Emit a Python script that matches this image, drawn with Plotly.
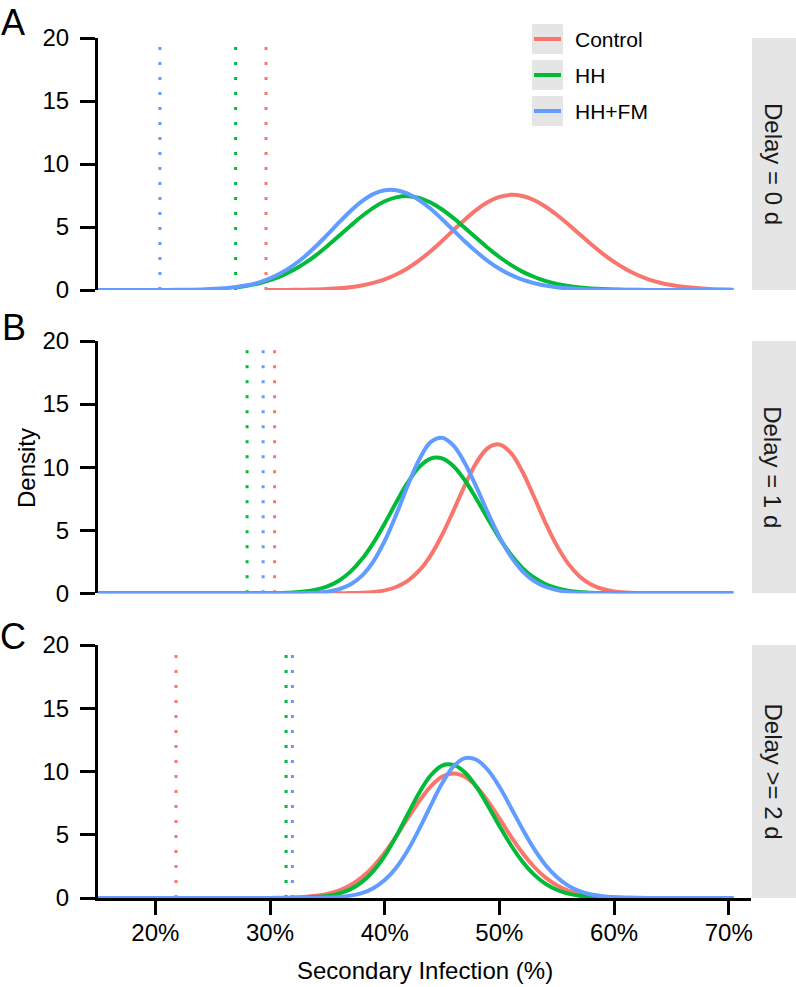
import plotly.graph_objects as go

# ---------------- data ----------------
GRID = [15, 18, 20, 22, 24, 26] + list(range(28, 67)) + [68, 70, 70.4]

# Panel A (Delay = 0 d)
A_CONTROL_X = [29.7] + list(range(30, 67)) + [68, 70, 70.4]
A_CONTROL_Y = [0.002, 0.003, 0.006, 0.011, 0.022, 0.042, 0.075, 0.13, 0.22,
               0.36, 0.56, 0.84, 1.23, 1.73, 2.35, 3.08, 3.89, 4.75, 5.60,
               6.36, 6.98, 7.39, 7.55, 7.46, 7.14, 6.63, 5.97, 5.22, 4.42,
               3.63, 2.89, 2.23, 1.67, 1.21, 0.85, 0.58, 0.39, 0.25, 0.093,
               0.031, 0.025]
A_HH_X = [27] + list(range(28, 67)) + [68, 70, 70.4]
A_HH_Y = [0.216, 0.34, 0.52, 0.78, 1.12, 1.56, 2.11, 2.75, 3.49, 4.28, 5.08,
          5.85, 6.52, 7.04, 7.35, 7.45, 7.31, 6.94, 6.39, 5.70, 4.92, 4.12,
          3.33, 2.62, 1.99, 1.46, 1.05, 0.72, 0.48, 0.31, 0.20, 0.12, 0.07,
          0.04, 0.022, 0.012, 0.006, 0.003, 0.001, 0, 0, 0, 0]
A_HHFM_Y = [0, 0, 0.002, 0.01, 0.038, 0.13, 0.37, 0.59, 0.92, 1.36, 1.93,
            2.64, 3.47, 4.39, 5.34, 6.25, 7.03, 7.61, 7.91, 7.92, 7.65, 7.14,
            6.45, 5.62, 4.73, 3.85, 3.03, 2.30, 1.69, 1.20, 0.82, 0.55, 0.35,
            0.22, 0.13, 0.075, 0.042, 0.022, 0.012, 0.006, 0.003, 0.001, 0,
            0, 0, 0, 0, 0]

# Panel B (Delay = 1 d)
B_CONTROL_Y = [0, 0, 0, 0, 0, 0, 0, 0, 0, 0, 0, 0, 0, 0, 0.005, 0.015, 0.04,
               0.10, 0.23, 0.50, 0.99, 1.79, 2.99, 4.62, 6.56, 8.58, 10.36,
               11.52, 11.80, 11.13, 9.65, 7.69, 5.63, 3.80, 2.35, 1.34, 0.70,
               0.34, 0.15, 0.061, 0.023, 0.008, 0.002, 0, 0, 0, 0, 0]
B_HH_Y = [0, 0, 0, 0, 0, 0, 0, 0.004, 0.011, 0.027, 0.063, 0.14, 0.29, 0.55,
          1.0, 1.70, 2.69, 3.98, 5.53, 7.20, 8.77, 10.0, 10.68, 10.69, 10.07,
          8.94, 7.48, 5.90, 4.38, 3.07, 2.02, 1.26, 0.74, 0.41, 0.21, 0.10,
          0.048, 0.021, 0.008, 0.003, 0, 0, 0, 0, 0, 0, 0, 0]
B_HHFM_Y = [0, 0, 0, 0, 0, 0, 0, 0, 0, 0, 0.005, 0.017, 0.049, 0.13, 0.32,
            0.69, 1.38, 2.51, 4.15, 6.23, 8.52, 10.59, 11.98, 12.33, 11.70,
            10.30, 8.41, 6.37, 4.48, 2.92, 1.76, 0.99, 0.52, 0.25, 0.11,
            0.046, 0.018, 0.006, 0, 0, 0, 0, 0, 0, 0, 0, 0, 0]

# Panel C (Delay >= 2 d)
C_CONTROL_Y = [0, 0, 0, 0, 0, 0, 0.001, 0.003, 0.007, 0.018, 0.04, 0.086,
               0.17, 0.33, 0.59, 1.01, 1.63, 2.49, 3.58, 4.88, 6.29, 7.65,
               8.81, 9.58, 9.85, 9.58, 8.81, 7.65, 6.29, 4.88, 3.58, 2.49,
               1.63, 1.01, 0.59, 0.33, 0.17, 0.086, 0.04, 0.018, 0.007, 0.003,
               0.001, 0, 0, 0, 0, 0]
C_HH_Y = [0, 0, 0, 0, 0, 0, 0, 0, 0, 0.004, 0.011, 0.029, 0.071, 0.16, 0.35,
          0.68, 1.25, 2.12, 3.33, 4.87, 6.6, 8.30, 9.68, 10.47, 10.52, 9.92,
          8.78, 7.30, 5.70, 4.19, 2.89, 1.87, 1.14, 0.65, 0.35, 0.18, 0.083,
          0.037, 0.016, 0.006, 0.002, 0, 0, 0, 0, 0, 0, 0]
C_HHFM_Y = [0, 0, 0, 0, 0, 0, 0, 0, 0, 0, 0.001, 0.004, 0.012, 0.032, 0.08,
            0.19, 0.39, 0.78, 1.42, 2.40, 3.76, 5.44, 7.29, 9.05, 10.4,
            11.06, 10.93, 10.12, 8.79, 7.16, 5.47, 3.92, 2.63, 1.66, 0.98,
            0.54, 0.28, 0.14, 0.063, 0.027, 0.011, 0.004, 0.001, 0, 0, 0, 0,
            0]

# dotted reference lines (x position, %), per panel: Control, HH, HH+FM
VLINES_A = [29.65, 27.0, 20.4]
VLINES_B = [30.4, 28.0, 29.4]
VLINES_C = [21.8, 31.4, 31.95]
VLINE_TOP = 19.5

GROUPS = ["Control", "HH", "HH+FM"]
PANEL_LABELS = ["A", "B", "C"]
STRIP_LABELS = ["Delay = 0 d", "Delay = 1 d", "Delay >= 2 d"]
X_TICKS = [20, 30, 40, 50, 60, 70]
X_TICK_TEXT = ["20%", "30%", "40%", "50%", "60%", "70%"]
Y_TICKS = [0, 5, 10, 15, 20]

# ---------------- styling ----------------
COLORS = {"Control": "#F8766D", "HH": "#00BA38", "HH+FM": "#619CFF"}
FONT = "Liberation Sans, Arial, Helvetica, sans-serif"
W, H = 796, 987
ML, MR, MT, MB = 98, 45, 38, 89
PW = W - ML - MR
PH = H - MT - MB


def px_x(p):
    return (p - ML) / PW


def px_y(p):
    return (H - MB - p) / PH


# panel pixel extents (top, bottom)
PANELS_PX = [(38, 290), (341, 593.3), (645, 898)]

fig = go.Figure()

panel_curves = [
    [(A_CONTROL_X, A_CONTROL_Y), (A_HH_X, A_HH_Y), (GRID, A_HHFM_Y)],
    [(GRID, B_CONTROL_Y), (GRID, B_HH_Y), (GRID, B_HHFM_Y)],
    [(GRID, C_CONTROL_Y), (GRID, C_HH_Y), (GRID, C_HHFM_Y)],
]
panel_vlines = [VLINES_A, VLINES_B, VLINES_C]

for i in range(3):
    xa = "x" if i == 0 else f"x{i+1}"
    ya = "y" if i == 0 else f"y{i+1}"
    for g, v in zip(GROUPS, panel_vlines[i]):
        fig.add_trace(go.Scatter(
            x=[v, v], y=[0, VLINE_TOP], mode="lines",
            line=dict(color=COLORS[g], width=3, dash="3px,12px"),
            xaxis=xa, yaxis=ya, showlegend=False, hoverinfo="skip"))
    for g, (xs, ys) in zip(GROUPS, panel_curves[i]):
        fig.add_trace(go.Scatter(
            x=xs, y=ys, mode="lines", name=g,
            line=dict(color=COLORS[g], width=4, shape="spline", smoothing=1),
            xaxis=xa, yaxis=ya, showlegend=False))

X_RANGE = [15.0, 71.94]
layout = dict(
    width=W, height=H,
    margin=dict(l=ML, r=MR, t=MT, b=MB),
    paper_bgcolor="white", plot_bgcolor="white",
    font=dict(family=FONT, color="black", size=24),
    showlegend=False,
)
for i in range(3):
    top, bot = PANELS_PX[i]
    dom = [max(0, px_y(bot)), min(1, px_y(top))]
    xk = "xaxis" if i == 0 else f"xaxis{i+1}"
    yk = "yaxis" if i == 0 else f"yaxis{i+1}"
    anchor_x = "y" if i == 0 else f"y{i+1}"
    anchor_y = "x" if i == 0 else f"x{i+1}"
    if i < 2:
        layout[xk] = dict(domain=[0, 1], range=X_RANGE, visible=False,
                          anchor=anchor_x, showgrid=False, zeroline=False)
    else:
        layout[xk] = dict(domain=[0, 1], range=X_RANGE, anchor=anchor_x,
                          showline=True, linecolor="black", linewidth=3,
                          ticks="outside", ticklen=14, tickwidth=3,
                          tickcolor="black", tickvals=X_TICKS,
                          ticktext=X_TICK_TEXT, showgrid=False,
                          zeroline=False, ticklabelstandoff=-3,
                          tickfont=dict(size=24, family=FONT, color="black"))
    layout[yk] = dict(domain=dom, range=[0, 20], anchor=anchor_y,
                      showline=True, linecolor="black", linewidth=3,
                      ticks="outside", ticklen=15, tickwidth=3,
                      tickcolor="black", tickvals=Y_TICKS, showgrid=False,
                      zeroline=False, ticklabelstandoff=6,
                      tickfont=dict(size=24, family=FONT, color="black"))

shapes = []
annotations = []
for i in range(3):
    top, bot = PANELS_PX[i]
    shapes.append(dict(type="rect", xref="paper", yref="paper",
                       x0=px_x(752), x1=px_x(796), y0=px_y(bot), y1=px_y(top),
                       fillcolor="#E5E5E5", line=dict(width=0), layer="below"))
    annotations.append(dict(text=STRIP_LABELS[i], xref="paper", yref="paper",
                            x=px_x(773), y=px_y((top + bot) / 2),
                            textangle=90, showarrow=False,
                            xanchor="center", yanchor="middle",
                            font=dict(size=24, family=FONT, color="#1a1a1a")))

LETTER_POS = [(13, 22), (14, 327), (13, 636)]
for lab, (lx, ly) in zip(PANEL_LABELS, LETTER_POS):
    annotations.append(dict(text=lab, xref="paper", yref="paper",
                            x=px_x(lx), y=px_y(ly), showarrow=False,
                            xanchor="center", yanchor="middle",
                            font=dict(size=36, family=FONT, color="black")))

annotations.append(dict(text="Density", xref="paper", yref="paper",
                        x=px_x(26), y=px_y(468), textangle=-90,
                        showarrow=False, xanchor="center", yanchor="middle",
                        font=dict(size=24, family=FONT, color="black")))
annotations.append(dict(text="Secondary Infection (%)", xref="paper",
                        yref="paper", x=px_x(425), y=px_y(970),
                        showarrow=False, xanchor="center", yanchor="middle",
                        font=dict(size=24, family=FONT, color="black")))

KEY_TOPS = [24, 60, 96]
for g, kt in zip(GROUPS, KEY_TOPS):
    shapes.append(dict(type="rect", xref="paper", yref="paper",
                       x0=px_x(532), x1=px_x(563), y0=px_y(kt + 30),
                       y1=px_y(kt), fillcolor="#E5E5E5", line=dict(width=0),
                       layer="below"))
    shapes.append(dict(type="line", xref="paper", yref="paper",
                       x0=px_x(534), x1=px_x(561), y0=px_y(kt + 15),
                       y1=px_y(kt + 15),
                       line=dict(color=COLORS[g], width=4)))
    annotations.append(dict(text=g, xref="paper", yref="paper",
                            x=px_x(573), y=px_y(kt + 15), showarrow=False,
                            xanchor="left", yanchor="middle",
                            font=dict(size=21, family=FONT, color="black")))

layout["shapes"] = shapes
layout["annotations"] = annotations
fig.update_layout(**layout)

fig.write_html("out.html",
               config={"displayModeBar": False},
               post_script="document.body.style.margin='0px';"
                           "document.body.style.overflow='hidden';")
